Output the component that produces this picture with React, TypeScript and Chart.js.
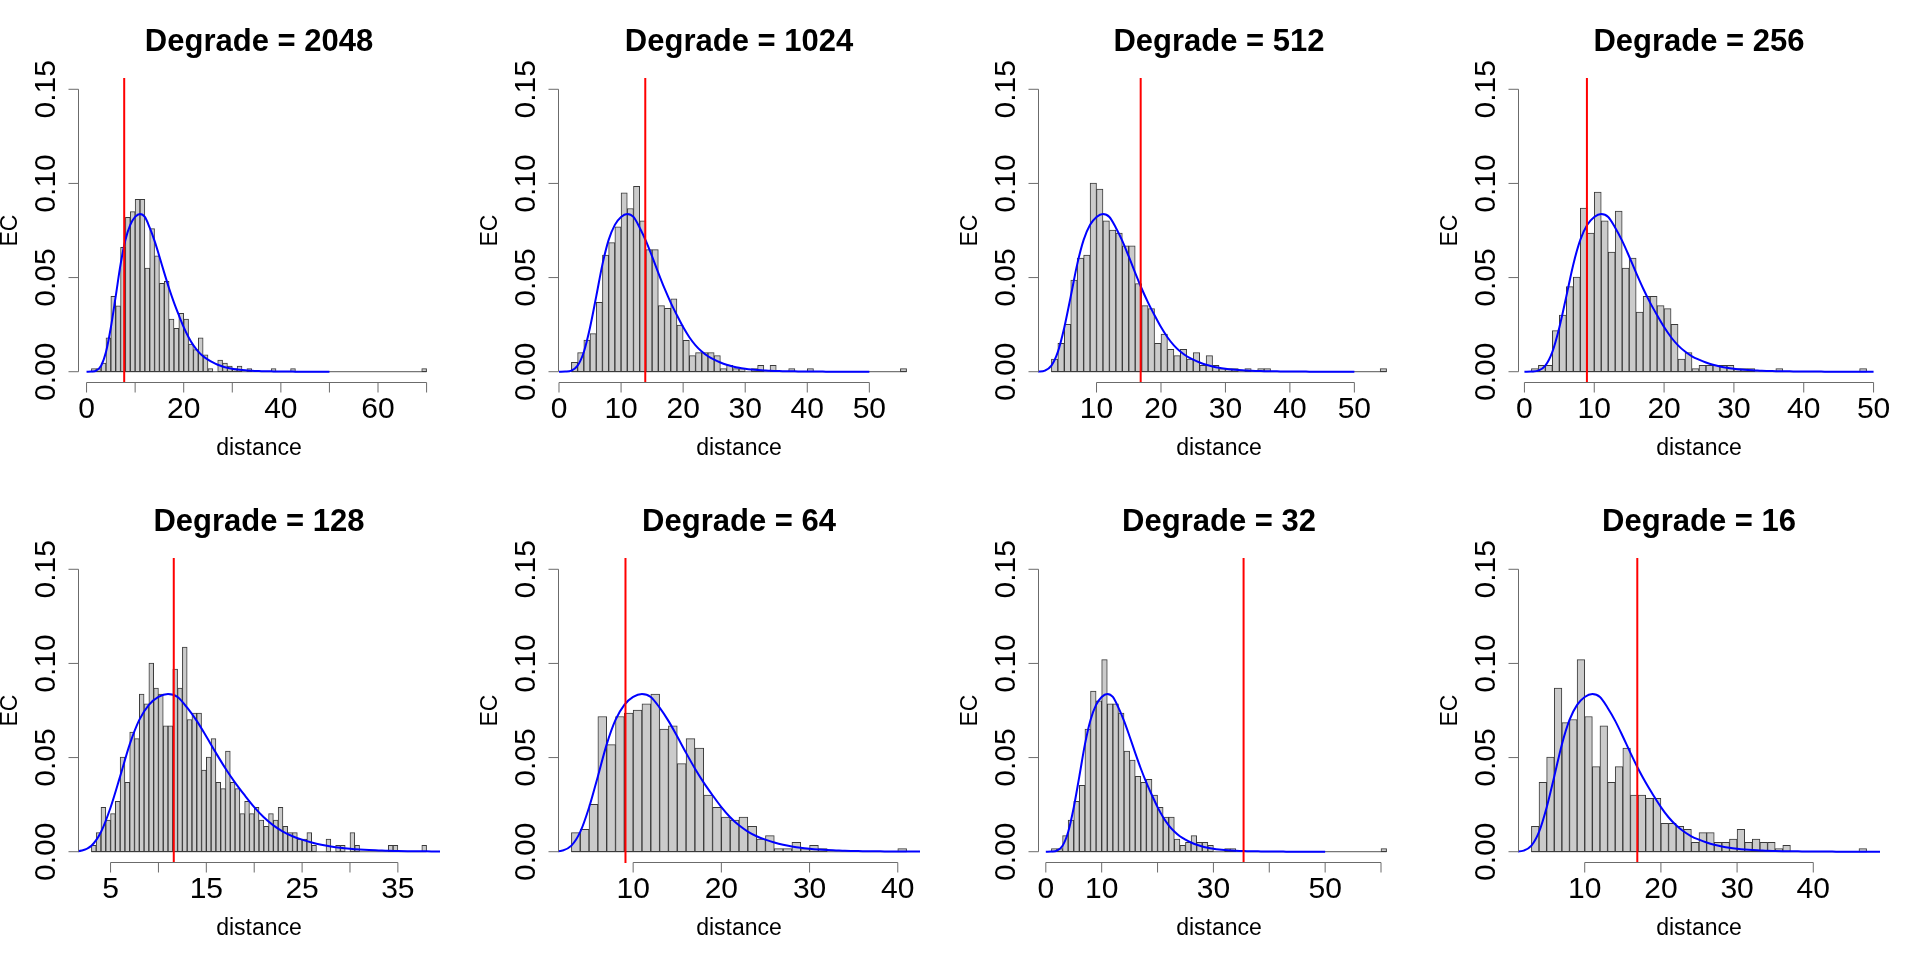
import { useEffect, useRef } from 'react'
import { Chart, registerables } from 'chart.js'

Chart.register(...registerables)

// panel order: left to right, top row then bottom row
const degrades = [2048, 1024, 512, 256, 128, 64, 32, 16]
const binStarts = [1, 2, 3, 1, 3, 3, 1, 3]
const binWidths = [1, 1, 1, 1, 0.5, 1, 1, 1]

const density2048 = [
  0.0016, 0.0016, 0.0046, 0.018, 0.04, 0.035, 0.066, 0.082, 0.085, 0.0915,
  0.0915, 0.055, 0.076, 0.0615, 0.047, 0.048, 0.028, 0.023, 0.031, 0.028,
  0.0147, 0.0117, 0.018, 0.009, 0.0016, 0, 0.0062, 0.0046, 0.003, 0.0016,
  0.003, 0, 0.0016, 0, 0, 0, 0, 0.0016, 0, 0,
  0, 0.0016, 0, 0, 0, 0, 0, 0, 0, 0,
  0, 0, 0, 0, 0, 0, 0, 0, 0, 0,
  0, 0, 0, 0, 0, 0, 0, 0, 0.0016,
]
const density1024 = [
  0.005, 0.0101, 0.0168, 0.0202, 0.0369, 0.0619, 0.0686, 0.077, 0.095, 0.0867,
  0.0985, 0.0801, 0.0648, 0.0648, 0.0351, 0.0337, 0.0387, 0.0248, 0.0167, 0.0085,
  0.0101, 0.0101, 0.0101, 0.0085, 0.0016, 0.0034, 0.0016, 0.0016, 0, 0.0016,
  0.0034, 0, 0.0034, 0, 0, 0.0016, 0, 0, 0.0016, 0,
  0, 0, 0, 0, 0, 0, 0, 0, 0, 0,
  0, 0, 0, 0.0016,
]
const density512 = [
  0.0067, 0.0151, 0.0252, 0.0486, 0.0603, 0.0619, 0.1002, 0.097, 0.0801, 0.0752,
  0.0736, 0.0668, 0.0668, 0.0468, 0.0351, 0.0335, 0.0151, 0.02, 0.0119, 0.0085,
  0.0119, 0.0067, 0.0101, 0.0034, 0.0085, 0.0034, 0.0016, 0.0016, 0.0016, 0,
  0.0016, 0, 0.0016, 0.0016, 0, 0, 0, 0, 0, 0,
  0, 0, 0, 0, 0, 0, 0, 0, 0, 0,
  0, 0.0016,
]
const density256 = [
  0.0016, 0.0034, 0.0034, 0.0218, 0.0301, 0.0452, 0.0502, 0.0869, 0.0736, 0.0954,
  0.0801, 0.0635, 0.0853, 0.0551, 0.0603, 0.0317, 0.0401, 0.0401, 0.0351, 0.0335,
  0.0252, 0.0067, 0.0101, 0.0016, 0.0034, 0.0034, 0.0034, 0.0034, 0.0034, 0.0016,
  0.0016, 0.0016, 0, 0, 0, 0.0016, 0, 0, 0, 0,
  0, 0, 0, 0, 0, 0, 0, 0.0016,
]
const density128 = [
  0.0034, 0.0101, 0.0236, 0.0168, 0.0202, 0.0268, 0.0502, 0.0369, 0.0635, 0.0601,
  0.0837, 0.0785, 0.1002, 0.0869, 0.0837, 0.0668, 0.0668, 0.097, 0.0869, 0.1087,
  0.0702, 0.0736, 0.0736, 0.0434, 0.0502, 0.0601, 0.0369, 0.0335, 0.0535, 0.0369,
  0.0335, 0.0202, 0.0268, 0.0202, 0.0236, 0.0168, 0.0135, 0.0202, 0.0168, 0.0236,
  0.0135, 0.0101, 0.0101, 0.0067, 0.0067, 0.0101, 0.0034, 0, 0, 0.0067,
  0, 0.0034, 0.0034, 0, 0.0101, 0.0034, 0, 0, 0, 0,
  0, 0, 0.0034, 0.0034, 0, 0, 0, 0, 0, 0.0034,
]
const density64 = [
  0.0101, 0.0119, 0.0252, 0.0718, 0.0569, 0.0718, 0.0736, 0.0752, 0.0785, 0.0837,
  0.0651, 0.0668, 0.0468, 0.0601, 0.0551, 0.0301, 0.0236, 0.0184, 0.0168, 0.0184,
  0.0135, 0.0067, 0.0085, 0.0016, 0.0016, 0.005, 0.0016, 0.0034, 0.0016, 0,
  0, 0, 0, 0, 0, 0, 0, 0.0016,
]
const density32 = [
  0.0016, 0.0016, 0.0085, 0.0168, 0.0268, 0.0353, 0.0651, 0.0853, 0.0801, 0.102,
  0.0785, 0.0785, 0.0736, 0.0535, 0.0486, 0.0401, 0.0369, 0.0385, 0.0301, 0.0236,
  0.0184, 0.0184, 0.0067, 0.0034, 0.005, 0.0085, 0.005, 0.005, 0.0034, 0,
  0, 0.0016, 0.0016, 0, 0, 0, 0, 0, 0, 0,
  0, 0, 0, 0, 0, 0, 0, 0, 0, 0,
  0, 0, 0, 0, 0, 0, 0, 0, 0, 0.0016,
]
const density16 = [
  0.0135, 0.0369, 0.0502, 0.0869, 0.0686, 0.0702, 0.102, 0.0718, 0.0452, 0.0668,
  0.0369, 0.0452, 0.0551, 0.0301, 0.0301, 0.0284, 0.0284, 0.0151, 0.0151, 0.0135,
  0.0119, 0.005, 0.0101, 0.0101, 0.005, 0.005, 0.0067, 0.0119, 0.005, 0.0067,
  0.005, 0.005, 0.0016, 0.0034, 0, 0, 0, 0, 0, 0,
  0, 0, 0, 0.0016,
]
const densities = [density2048, density1024, density512, density256, density128, density64, density32, density16]

// fitted density curve (same in every panel)
const curveX = [
  0, 1, 2, 3, 4, 5, 6, 7, 8, 9, 10, 11, 12, 13, 14, 15, 16, 17, 18, 19, 20, 21, 22, 23, 24, 25,
  26, 27, 28, 29, 30, 31, 32, 33, 34, 35, 36, 37, 38, 39, 40, 41, 42, 43, 44, 45, 46, 47, 48, 49, 50,
]
const curveY = [
  0, 0.0001, 0.0006, 0.0032, 0.0105, 0.0235, 0.04, 0.057, 0.07, 0.078,
  0.0822, 0.0838, 0.0822, 0.0765, 0.0695, 0.0612, 0.0525, 0.0442, 0.0367, 0.03,
  0.0237, 0.0183, 0.014, 0.0107, 0.0082, 0.0064, 0.0049, 0.0037, 0.0028, 0.0021,
  0.0016, 0.0012, 0.0009, 0.0007, 0.0005, 0.0004, 0.0003, 0.0002, 0.0002, 0.0001,
  0.0001, 0.0001, 0.0001, 0, 0, 0, 0, 0, 0, 0, 0,
]

const redLines = [7.75, 13.9, 16.85, 8.95, 11.6, 9.13, 35.4, 16.9]

const xTicks = [
  [0, 10, 20, 30, 40, 50, 60, 70],
  [0, 10, 20, 30, 40, 50],
  [10, 20, 30, 40, 50],
  [0, 10, 20, 30, 40, 50],
  [5, 10, 15, 20, 25, 30, 35],
  [10, 20, 30, 40],
  [0, 10, 20, 30, 40, 50, 60],
  [10, 20, 30, 40],
]
const xTickLabels = [
  ['0', '', '20', '', '40', '', '60', ''],
  ['0', '10', '20', '30', '40', '50'],
  ['10', '20', '30', '40', '50'],
  ['0', '10', '20', '30', '40', '50'],
  ['5', '', '15', '', '25', '', '35'],
  ['10', '20', '30', '40'],
  ['0', '10', '', '30', '', '50', ''],
  ['10', '20', '30', '40'],
]
const yTicks = [0, 0.05, 0.1, 0.15]
const yTickLabels = ['0.00', '0.05', '0.10', '0.15']

const FONT = '"Liberation Sans", Arial, Helvetica, sans-serif'
const Y_MIN = -0.006
const Y_MAX = 0.156

function rAxes(index: number) {
  return {
    id: 'rAxes',
    afterDraw(chart: any) {
      const ctx = chart.ctx
      const xs = chart.scales.x
      const ys = chart.scales.y
      const area = chart.chartArea
      const mid = (area.left + area.right) / 2
      ctx.save()

      // x axis
      const ticks = xTicks[index]
      const ax = area.bottom - 0.5
      ctx.strokeStyle = '#6b6b6b'
      ctx.lineWidth = 1
      ctx.beginPath()
      ctx.moveTo(xs.getPixelForValue(ticks[0]), ax)
      ctx.lineTo(xs.getPixelForValue(ticks[ticks.length - 1]), ax)
      ticks.forEach((t) => {
        const px = xs.getPixelForValue(t)
        ctx.moveTo(px, ax)
        ctx.lineTo(px, ax + 10)
      })
      // y axis
      const ay = area.left + 0.5
      ctx.moveTo(ay, ys.getPixelForValue(yTicks[0]))
      ctx.lineTo(ay, ys.getPixelForValue(yTicks[yTicks.length - 1]))
      yTicks.forEach((t) => {
        const py = ys.getPixelForValue(t)
        ctx.moveTo(ay, py)
        ctx.lineTo(ay - 10, py)
      })
      ctx.stroke()

      ctx.fillStyle = '#000'
      ctx.textBaseline = 'alphabetic'
      ctx.textAlign = 'center'
      ctx.font = `30px ${FONT}`
      ticks.forEach((t, i) => {
        const lbl = xTickLabels[index][i]
        if (lbl) ctx.fillText(lbl, xs.getPixelForValue(t), 418)
      })
      yTicks.forEach((t, i) => {
        ctx.save()
        ctx.translate(55, ys.getPixelForValue(t))
        ctx.rotate(-Math.PI / 2)
        ctx.fillText(yTickLabels[i], 0, 0)
        ctx.restore()
      })

      ctx.font = `23px ${FONT}`
      ctx.fillText('distance', mid, 455)
      ctx.save()
      ctx.translate(17, (area.top + area.bottom) / 2)
      ctx.rotate(-Math.PI / 2)
      ctx.fillText('EC', 0, 0)
      ctx.restore()

      ctx.font = `bold 31px ${FONT}`
      ctx.fillText(`Degrade = ${degrades[index]}`, mid, 51)
      ctx.restore()
    },
  }
}

function Panel({ index }: { index: number }) {
  const canvasRef = useRef<HTMLCanvasElement>(null)

  useEffect(() => {
    if (!canvasRef.current) return
    const start = binStarts[index]
    const width = binWidths[index]
    const dens = densities[index]
    const end = start + width * dens.length
    const ext = (end - start) * 0.04
    const red = redLines[index]

    const chart = new Chart(canvasRef.current, {
      type: 'bar',
      data: {
        datasets: [
          {
            type: 'line',
            data: [{ x: start, y: 0 }, { x: end, y: 0 }],
            borderColor: '#555',
            borderWidth: 1,
            pointRadius: 0,
            order: 3,
          },
          {
            type: 'bar',
            data: dens.map((v, i) => ({ x: start + width * (i + 0.5), y: v })),
            backgroundColor: '#cbcbcb',
            borderColor: '#3a3a3a',
            borderWidth: 1,
            borderSkipped: false,
            barPercentage: 1,
            categoryPercentage: 1,
            grouped: false,
            order: 2,
          },
          {
            type: 'line',
            data: curveX.map((x, i) => ({ x, y: curveY[i] })),
            borderColor: '#0000ff',
            borderWidth: 2,
            pointRadius: 0,
            cubicInterpolationMode: 'monotone',
            order: 1,
          },
          {
            type: 'line',
            data: [{ x: red, y: Y_MIN }, { x: red, y: Y_MAX }],
            borderColor: '#ff0000',
            borderWidth: 2,
            pointRadius: 0,
            order: 0,
          },
        ],
      } as any,
      options: {
        responsive: false,
        animation: false,
        events: [],
        layout: { padding: { left: 78, right: 40, top: 78, bottom: 97 } },
        plugins: {
          legend: { display: false },
          tooltip: { enabled: false },
        },
        scales: {
          x: { type: 'linear', min: start - ext, max: end + ext, offset: false, display: false },
          y: { type: 'linear', min: Y_MIN, max: Y_MAX, display: false },
        },
      } as any,
      plugins: [rAxes(index)],
    })

    return () => {
      chart.destroy()
    }
  }, [index])

  const col = index % 4
  const row = Math.floor(index / 4)
  return (
    <canvas
      ref={canvasRef}
      width={480}
      height={480}
      style={{ position: 'absolute', left: col * 480, top: row * 480, width: 480, height: 480 }}
    />
  )
}

export default function App() {
  return (
    <div style={{ position: 'fixed', left: 0, top: 0, width: 1920, height: 960, background: '#fff' }}>
      {degrades.map((d, i) => (
        <Panel key={d} index={i} />
      ))}
    </div>
  )
}
